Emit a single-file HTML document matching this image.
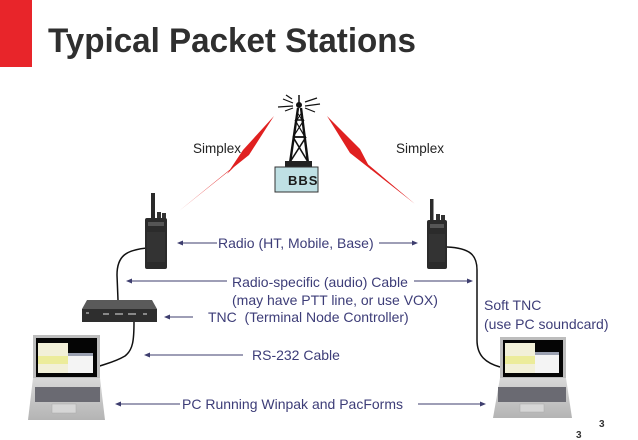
<!DOCTYPE html>
<html><head><meta charset="utf-8"><style>
html,body{margin:0;padding:0;background:#fff;}
svg{display:block;}
text{font-family:"Liberation Sans",Arial,sans-serif;}
</style></head><body>
<svg width="638" height="440" viewBox="0 0 638 440" xmlns="http://www.w3.org/2000/svg">
<defs>
<linearGradient id="silver" x1="0" y1="0" x2="0" y2="1">
<stop offset="0" stop-color="#d8d8d8"/><stop offset="1" stop-color="#b4b4b4"/></linearGradient>
<linearGradient id="bolt" x1="0" y1="0" x2="1" y2="1">
<stop offset="0" stop-color="#7a1010"/><stop offset="0.3" stop-color="#e02020"/><stop offset="0.7" stop-color="#e02020"/><stop offset="1" stop-color="#6a1010"/></linearGradient>
<linearGradient id="bolt2" x1="1" y1="0" x2="0" y2="1">
<stop offset="0" stop-color="#7a1010"/><stop offset="0.3" stop-color="#e02020"/><stop offset="0.7" stop-color="#e02020"/><stop offset="1" stop-color="#6a1010"/></linearGradient>
</defs>

<!-- title -->
<rect x="0" y="0" width="32" height="67" fill="#e8252a"/>
<text x="48" y="52" font-size="34" font-weight="bold" fill="#2f2f2f" textLength="368" lengthAdjust="spacingAndGlyphs">Typical Packet Stations</text>

<!-- lightning bolts -->
<polygon points="274,116 249,155 179,211 238,163 227,174 243,150" fill="url(#bolt)"/>
<polygon points="327,116 350,153 415,204 364,161 371,170 360,149" fill="url(#bolt2)"/>

<!-- tower -->
<g stroke="#111" fill="none">
<line x1="299" y1="95" x2="299" y2="104" stroke-width="1.5"/>
<circle cx="299" cy="105" r="2.5" fill="#111"/>
<line x1="298" y1="108" x2="290" y2="163" stroke-width="2.4"/>
<line x1="301" y1="108" x2="308" y2="163" stroke-width="2.4"/>
<line x1="295" y1="120" x2="304" y2="120" stroke-width="1.5"/>
<line x1="293" y1="137" x2="306" y2="137" stroke-width="1.8"/>
<line x1="295" y1="120" x2="305" y2="137" stroke-width="1.2"/>
<line x1="304" y1="120" x2="293" y2="137" stroke-width="1.2"/>
<line x1="293" y1="137" x2="308" y2="162" stroke-width="1.6"/>
<line x1="306" y1="137" x2="290" y2="162" stroke-width="1.6"/>
<line x1="297" y1="112" x2="302" y2="120" stroke-width="1"/>
<line x1="302" y1="112" x2="297" y2="120" stroke-width="1"/>
<g stroke-width="1.2">
<line x1="283" y1="99" x2="293" y2="103"/>
<line x1="278" y1="107" x2="293" y2="106"/>
<line x1="285" y1="111" x2="293" y2="108"/>
<line x1="286" y1="95" x2="292" y2="99"/>
<line x1="305" y1="102" x2="317" y2="98"/>
<line x1="305" y1="106" x2="320" y2="104"/>
<line x1="305" y1="108" x2="315" y2="112"/>
</g>
</g>
<rect x="285" y="161" width="27" height="6" fill="#222"/>
<rect x="275" y="167" width="43" height="25" fill="#bfe0e4" stroke="#333" stroke-width="1"/>
<text x="288" y="185" font-size="13" font-weight="bold" fill="#1a1a1a" letter-spacing="1">BBS</text>

<text x="193" y="153" font-size="13.5" fill="#222">Simplex</text>
<text x="396" y="153" font-size="13.5" fill="#222">Simplex</text>

<!-- cables -->
<g stroke="#111" stroke-width="1.5" fill="none">
<path d="M147,248 C126,250 117,256 117,275 L118,300"/>
<path d="M134,322 C134,340 133,350 125,356 C115,362 105,364 97,367"/>
<path d="M447,247 C470,248 477,255 477,270 L477,340 C477,356 486,363 500,367"/>
</g>

<!-- left radio -->
<rect x="151" y="193" width="4" height="26" fill="#2a2a2a"/>
<rect x="157" y="212" width="4" height="7" fill="#333"/>
<rect x="162" y="213" width="4" height="6" fill="#333"/>
<rect x="145" y="218" width="22" height="51" rx="2" fill="#2b2b2b"/>
<rect x="148" y="222" width="16" height="4" fill="#555"/>
<rect x="147" y="232" width="18" height="30" fill="#333"/>
<!-- right radio -->
<rect x="430" y="199" width="3.5" height="23" fill="#2a2a2a"/>
<rect x="436" y="214" width="4" height="7" fill="#333"/>
<rect x="441" y="215" width="4" height="6" fill="#333"/>
<rect x="427" y="220" width="20" height="49" rx="2" fill="#2b2b2b"/>
<rect x="430" y="224" width="14" height="4" fill="#555"/>
<rect x="429" y="234" width="16" height="28" fill="#333"/>

<!-- TNC -->
<polygon points="87,300 152,300 157,309 82,309" fill="#5a5a5a"/>
<rect x="82" y="309" width="75" height="13" fill="#2e2e2e"/>
<g fill="#888">
<rect x="86" y="312" width="3" height="2"/><rect x="103" y="313" width="6" height="2"/>
<rect x="115" y="313" width="8" height="2"/><rect x="128" y="313" width="8" height="2"/><rect x="143" y="313" width="4" height="2"/>
</g>

<!-- left laptop -->
<rect x="33" y="335" width="67" height="43" fill="#bdbdbd"/>
<rect x="36" y="338" width="61" height="39" fill="#050505"/>
<rect x="38" y="343" width="30" height="30" fill="#f2f0d8"/>
<rect x="38" y="356" width="30" height="8" fill="#ecec9a"/>
<rect x="68" y="353" width="25" height="20" fill="#f4f4f4"/>
<rect x="68" y="353" width="25" height="3" fill="#9aa0b0"/>
<polygon points="33,378 100,378 105,420 28,420" fill="url(#silver)"/>
<rect x="35" y="387" width="65" height="15" fill="#6a6a72"/>
<rect x="52" y="404" width="24" height="9" fill="#d6d6d6" stroke="#aaa" stroke-width="0.5"/>

<!-- right laptop -->
<rect x="500" y="337" width="66" height="41" fill="#bdbdbd"/>
<rect x="503" y="340" width="60" height="37" fill="#050505"/>
<rect x="505" y="343" width="30" height="30" fill="#f2f0d8"/>
<rect x="505" y="356" width="30" height="8" fill="#ecec9a"/>
<rect x="535" y="352" width="24" height="21" fill="#f4f4f4"/>
<rect x="535" y="352" width="24" height="3" fill="#9aa0b0"/>
<polygon points="500,378 566,378 572,418 493,418" fill="url(#silver)"/>
<rect x="498" y="387" width="68" height="15" fill="#6a6a72"/>
<rect x="520" y="404" width="24" height="8" fill="#d6d6d6" stroke="#aaa" stroke-width="0.5"/>

<!-- arrows -->
<g stroke="#3d3d6e" stroke-width="1" fill="none">
<line x1="181" y1="243" x2="217" y2="243"/>
<line x1="379" y1="243" x2="414" y2="243"/>
<line x1="130" y1="281" x2="227" y2="281"/>
<line x1="414" y1="281" x2="469" y2="281"/>
<line x1="168" y1="317" x2="193" y2="317"/>
<line x1="148" y1="355" x2="243" y2="355"/>
<line x1="119" y1="404" x2="180" y2="404"/>
<line x1="418" y1="404" x2="482" y2="404"/>
</g>
<g fill="#3d3d6e">
<polygon points="177,243 183,240.5 183,245.5"/>
<polygon points="418,243 412,240.5 412,245.5"/>
<polygon points="126,281 132,278.5 132,283.5"/>
<polygon points="473,281 467,278.5 467,283.5"/>
<polygon points="164,317 170,314.5 170,319.5"/>
<polygon points="144,355 150,352.5 150,357.5"/>
<polygon points="115,404 121,401.5 121,406.5"/>
<polygon points="486,404 480,401.5 480,406.5"/>
</g>

<!-- labels -->
<g font-size="14" fill="#3d3d78">
<text x="218" y="248">Radio (HT, Mobile, Base)</text>
<text x="232" y="287">Radio-specific (audio) Cable</text>
<text x="232" y="305">(may have PTT line, or use VOX)</text>
<text x="208" y="322">TNC&#160; (Terminal Node Controller)</text>
<text x="252" y="360">RS-232 Cable</text>
<text x="182" y="409">PC Running Winpak and PacForms</text>
<text x="484" y="310">Soft TNC</text>
<text x="484" y="329">(use PC soundcard)</text>
</g>

<text x="599" y="427" font-size="10" font-weight="bold" fill="#333">3</text>
<text x="576" y="438" font-size="10" font-weight="bold" fill="#333">3</text>
</svg>
</body></html>
